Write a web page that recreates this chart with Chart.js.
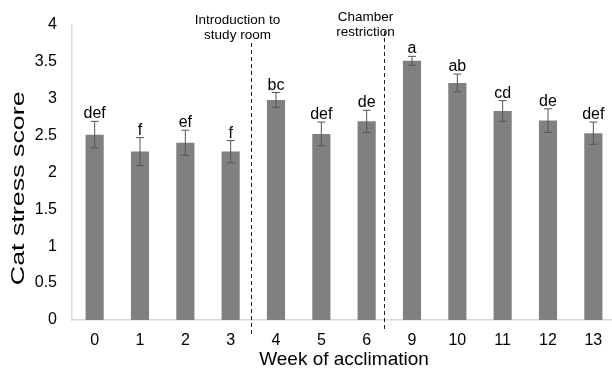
<!DOCTYPE html>
<html>
<head>
<meta charset="utf-8">
<script src="https://cdn.jsdelivr.net/npm/chart.js@4.4.1/dist/chart.umd.min.js"></script>
<style>
  html, body { margin: 0; padding: 0; background: #fff; overflow: hidden; }
  #wrap { width: 616px; height: 369px; position: relative; }
</style>
</head>
<body>
<div id="wrap"><canvas id="c" width="616" height="369"></canvas></div>
<script>
// Weeks of acclimation and mean cat stress scores
const weeks = ['0', '1', '2', '3', '4', '5', '6', '9', '10', '11', '12', '13'];
const meanScore = [2.51, 2.28, 2.40, 2.28, 2.98, 2.52, 2.69, 3.51, 3.21, 2.83, 2.70, 2.53];
const errScore = [0.18, 0.19, 0.17, 0.15, 0.10, 0.16, 0.15, 0.06, 0.12, 0.14, 0.16, 0.15];
const groupLetters = ['def', 'f', 'ef', 'f', 'bc', 'def', 'de', 'a', 'ab', 'cd', 'de', 'def'];
const yTicks = [0, 0.5, 1, 1.5, 2, 2.5, 3, 3.5, 4];
const yTitle = 'Cat stress score';
// Phase markers: placed between two weeks (fractional category position)
const phases = [
  { at: 3.45, lines: ['Introduction to', 'study room'], capShift: -14, capY: 20, lineTop: 43, bottomExtra: 16 },
  { at: 6.38, lines: ['Chamber', 'restriction'], capShift: -19, capY: 17, lineTop: 31, bottomExtra: 10 }
];

const FONT = "'Liberation Sans', Arial, sans-serif";

const annotate = {
  id: 'annotate',
  afterDatasetsDraw(chart) {
    const ctx = chart.ctx;
    const x = chart.scales.x, y = chart.scales.y;
    const area = chart.chartArea;
    ctx.save();
    // error bars and group letters
    meanScore.forEach((v, i) => {
      const cx = x.getPixelForValue(i);
      const hi = y.getPixelForValue(v + errScore[i]);
      const lo = y.getPixelForValue(v - errScore[i]);
      ctx.strokeStyle = '#555555';
      ctx.lineWidth = 1;
      ctx.beginPath();
      ctx.moveTo(cx, hi); ctx.lineTo(cx, lo);
      ctx.moveTo(cx - 4, hi); ctx.lineTo(cx + 4, hi);
      ctx.moveTo(cx - 4, lo); ctx.lineTo(cx + 4, lo);
      ctx.stroke();
      ctx.fillStyle = '#000';
      ctx.font = '16px ' + FONT;
      ctx.textAlign = 'center';
      ctx.textBaseline = 'alphabetic';
      ctx.fillText(groupLetters[i], cx, hi - 3);
    });
    // phase dividers with captions
    phases.forEach(p => {
      const step = x.getPixelForValue(1) - x.getPixelForValue(0);
      const px = Math.round(x.getPixelForValue(0) + p.at * step) + 0.5;
      ctx.fillStyle = '#000';
      ctx.font = '13.5px ' + FONT;
      ctx.textAlign = 'center';
      ctx.textBaseline = 'middle';
      p.lines.forEach((t, k) => ctx.fillText(t, px + p.capShift, p.capY + k * 15.5));
      ctx.strokeStyle = '#222';
      ctx.lineWidth = 1;
      ctx.setLineDash([4, 3]);
      ctx.beginPath();
      ctx.moveTo(px, p.lineTop);
      ctx.lineTo(px, area.bottom + p.bottomExtra);
      ctx.stroke();
      ctx.setLineDash([]);
    });
    // vertical axis title (tall lettering)
    ctx.translate(18.5, (area.top + area.bottom) / 2 + 16);
    ctx.rotate(-Math.PI / 2);
    ctx.scale(1.45, 1);
    ctx.font = '18.5px ' + FONT;
    ctx.textAlign = 'center';
    ctx.textBaseline = 'middle';
    ctx.fillStyle = '#000';
    ctx.fillText(yTitle, 0, 0);
    ctx.restore();
  }
};

new Chart(document.getElementById('c'), {
  type: 'bar',
  data: {
    labels: weeks,
    datasets: [{
      data: meanScore,
      backgroundColor: '#808080',
      barPercentage: 0.4,
      categoryPercentage: 1
    }]
  },
  options: {
    responsive: false,
    animation: false,
    layout: { padding: { top: 16, right: 0, left: 0, bottom: 0 } },
    plugins: { legend: { display: false }, tooltip: { enabled: false } },
    scales: {
      x: {
        grid: { display: false, drawTicks: false },
        border: { display: true, color: '#d9d9d9', width: 1.5 },
        ticks: { color: '#000', font: { family: FONT, size: 16 }, padding: 11 },
        title: { display: true, text: 'Week of acclimation', color: '#000', font: { family: FONT, size: 19 }, padding: { top: 0, bottom: -2 } },
        afterFit(s) { s.height = 49; }
      },
      y: {
        min: 0, max: 4,
        grid: { display: false, drawTicks: false },
        border: { display: true, color: '#d9d9d9', width: 1.5 },
        afterBuildTicks(s) { s.ticks = yTicks.map(v => ({ value: v })); },
        ticks: { color: '#000', font: { family: FONT, size: 16 }, padding: 15, callback: v => String(v) },
        title: { display: false },
        afterFit(s) { s.width = 72; }
      }
    }
  },
  plugins: [annotate]
});
</script>
</body>
</html>
